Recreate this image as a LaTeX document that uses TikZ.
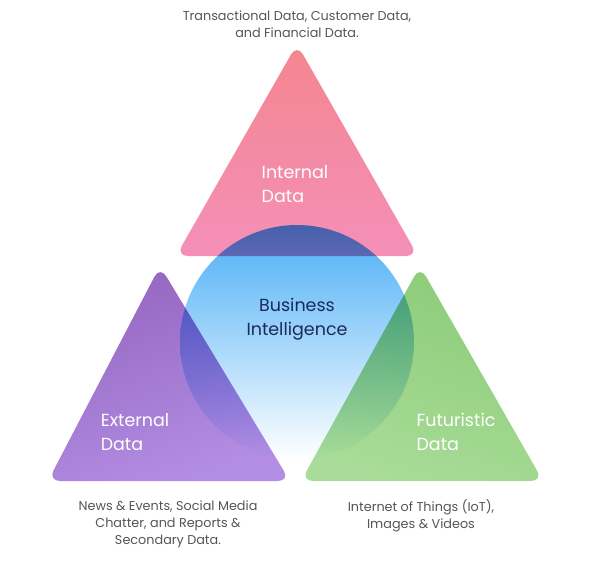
\documentclass[tikz,border=0pt]{standalone}
\usepackage{fontspec}
\setmainfont{Poppins}
\usetikzlibrary{positioning}
\definecolor{pinkA}{HTML}{F4868F}
\definecolor{pinkB}{HTML}{F48FB8}
\definecolor{purpA}{HTML}{9466C0}
\definecolor{purpB}{HTML}{B48EE4}
\definecolor{greenA}{HTML}{8CCB78}
\definecolor{greenB}{HTML}{A8DC98}
\definecolor{blueA}{HTML}{4AAEF6}
\definecolor{navy}{HTML}{1B2A5C}
\definecolor{capgray}{HTML}{555555}
\begin{document}
\begin{tikzpicture}[x=1pt,y=-1pt,
    tri/.style = {rounded corners=12pt},
    title/.style = {font=\fontsize{17.5}{24}\selectfont, text=white, align=left},
    caption/.style = {font=\fontsize{12.8}{17}\selectfont, text=capgray, align=center}
    ]
    \useasboundingbox (0,0) rectangle (600,560);

    % triangles
    \shade[tri, top color=pinkA, bottom color=pinkB]
      (297,44) -- (418,256) -- (176,256) -- cycle;
    \shade[tri, top color=purpA, bottom color=purpB, shading angle=20]
      (160,266) -- (290,481) -- (48,481) -- cycle;
    \shade[tri, top color=greenA, bottom color=greenB, shading angle=-20]
      (420,266) -- (543,481) -- (301,481) -- cycle;

    % circle
    \begin{scope}[blend mode=multiply]
      \shade[top color=blueA, bottom color=white] (297,342) circle (117);
    \end{scope}

    \node[title] (internal) at (295,184) {Internal\\Data};
    \node[title, text=navy, align=center] (bi) at (297,319) {Business\\Intelligence};
    \node[title] (external) at (135,432) {External\\Data};
    \node[title] (futuristic) at (456,432) {Futuristic\\Data};

    \node[caption] (capint) at (297,24) {Transactional Data, Customer Data,\\and Financial Data.};
    \node[caption] (capext) at (168,524) {News \& Events, Social Media\\Chatter, and Reports \&\\Secondary Data.};
    \node[caption] (capfut) at (421,516) {Internet of Things (IoT),\\Images \& Videos};

\end{tikzpicture}
\end{document}
